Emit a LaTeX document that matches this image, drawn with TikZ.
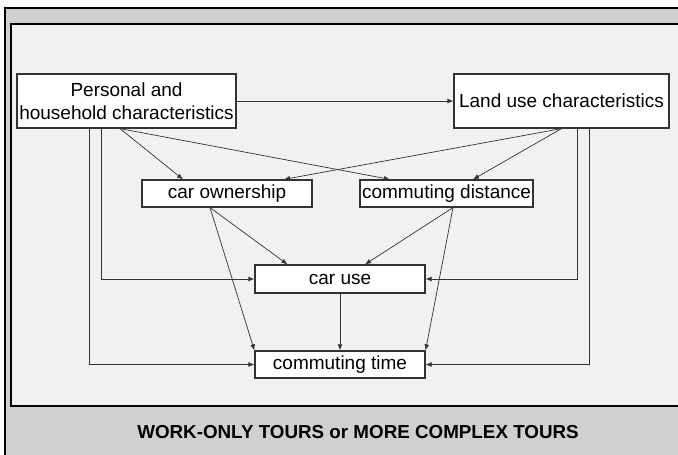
\documentclass[tikz,border=0pt]{standalone}
\usepackage{fontspec}
\setmainfont{Liberation Sans}
\usetikzlibrary{calc,arrows.meta}

\definecolor{panelgray}{HTML}{CFD0CF}
\definecolor{panelbg}{HTML}{F1F1F1}
\definecolor{linegray}{HTML}{333333}

\tikzset{
  factor/.style={draw=linegray, line width=0.6pt, fill=white, inner sep=0pt,
    align=center, font=\fontsize{9.5}{11.4}\selectfont},
  link/.style={-{Latex[length=3pt,width=2.4pt]}, draw=linegray, line width=0.35pt},
}

\begin{document}
\begin{tikzpicture}[x=0.5pt, y=-0.5pt]
\clip (0,0) rectangle (678,454);
% Panels
  \draw[fill=panelgray, line width=0.9pt] (5,8) rectangle (712,470);
  \draw[fill=panelbg, line width=0.9pt] (11,24) rectangle (706,406);
  \node[font=\bfseries\fontsize{9.4}{11}\selectfont] (tours) at (358,432)
    {WORK-ONLY TOURS or MORE COMPLEX TOURS};
% Factors
  \node[factor, minimum width=109.5pt, minimum height=27pt] (pers) at (126.5,101)
    {Personal and\\household characteristics};
  \node[factor, minimum width=107.5pt, minimum height=27pt] (land) at (561.5,101)
    {Land use characteristics};
  \node[factor, minimum width=85pt, minimum height=13.5pt] (own) at (227,193.5) {car ownership};
  \node[factor, minimum width=86.5pt, minimum height=13.5pt] (dist) at (446.5,193.5) {commuting distance};
  \node[factor, minimum width=85pt, minimum height=14pt] (use) at (340,279) {car use};
  \node[factor, minimum width=85pt, minimum height=13.5pt] (time) at (340,364.5) {commuting time};
% Links
  \draw[link] (pers.east) -- (land.west);
  \draw[link] ($(pers.south)+(-6.5,0)$) -- ($(own.north)+(-44,0)$);
  \draw[link] ($(pers.south)+(-6.5,0)$) -- ($(dist.north)+(-56.5,0)$);
  \draw[link] (land.south) -- ($(own.north)+(57,0)$);
  \draw[link] (land.south) -- ($(dist.north)+(26.5,0)$);
  \draw[link] ($(own.south)+(-17,0)$) -- ($(use.north)+(-52.5,0)$);
  \draw[link] ($(own.south)+(-17,0)$) -- (time.north west);
  \draw[link] ($(dist.south)+(6.5,0)$) -- ($(use.north)+(25,0)$);
  \draw[link] ($(dist.south)+(6.5,0)$) -- (time.north east);
  \draw[link] (use.south) -- (time.north);
% Side links
  \draw[link] ($(pers.south west)+(85,0)$) |- (use.west);
  \draw[link] ($(pers.south west)+(73,0)$) |- (time.west);
  \draw[link] ($(land.south west)+(124,0)$) |- (use.east);
  \draw[link] ($(land.south west)+(136,0)$) |- (time.east);
\end{tikzpicture}
\end{document}
